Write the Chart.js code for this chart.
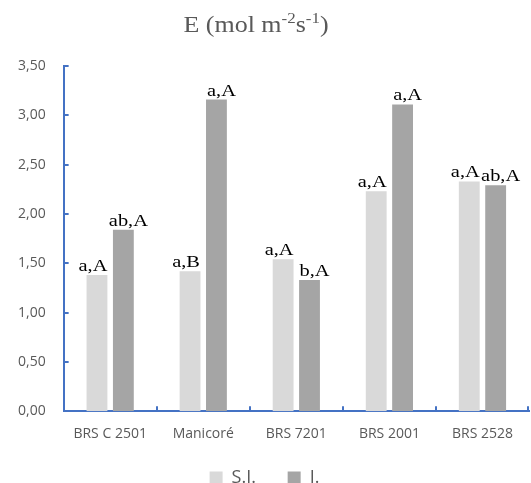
<!DOCTYPE html>
<html>
<head>
<meta charset="utf-8">
<script src="https://cdn.jsdelivr.net/npm/chart.js@4"></script>
<style>
  html, body { margin: 0; padding: 0; background: #fff; }
  #wrap { width: 531px; height: 483px; }
</style>
</head>
<body>
<div id="wrap"><canvas id="chart"></canvas></div>
<script>
// data
const cultivars = ['BRS C 2501', 'Manicoré', 'BRS 7201', 'BRS 2001', 'BRS 2528'];
const seriesNames = ['S.I.', 'I.'];
const valuesSI = [1.38, 1.42, 1.54, 2.23, 2.33];
const valuesI = [1.84, 3.16, 1.33, 3.11, 2.29];
const lettersSI = ['a,A', 'a,B', 'a,A', 'a,A', 'a,A'];
const lettersI = ['ab,A', 'a,A', 'b,A', 'a,A', 'ab,A'];
const yTicks = [0, 0.5, 1, 1.5, 2, 2.5, 3, 3.5];

const AXIS_BLUE = '#4472C4';
const GREY_TEXT = '#595959';
const SERIF = '"Times New Roman", "Liberation Serif", serif';

// title with superscripts, drawn in pieces
const titlePlugin = {
    id: 'titleSup',
    afterDraw(chart) {
        const ctx = chart.ctx;
        const big = 23, small = 15, sx = 1.13;
        const parts = [
            { t: 'E (mol m', s: big, dy: 0 },
            { t: '-2', s: small, dy: -9 },
            { t: 's', s: big, dy: 0 },
            { t: '-1', s: small, dy: -9 },
            { t: ')', s: big, dy: 0 }
        ];
        ctx.save();
        let w = 0;
        parts.forEach(p => { ctx.font = p.s + 'px ' + SERIF; p.w = ctx.measureText(p.t).width; w += p.w; });
        const cx = 256, base = 32;
        ctx.translate(cx, base);
        ctx.scale(sx, 1);
        ctx.fillStyle = GREY_TEXT;
        ctx.textBaseline = 'alphabetic';
        let x = -w / 2;
        parts.forEach(p => {
            ctx.font = p.s + 'px ' + SERIF;
            ctx.fillText(p.t, x, p.dy);
            x += p.w;
        });
        ctx.restore();
    }
};

// letters above the bars; the pair is nudged apart a little so they don't collide
const lettersPlugin = {
    id: 'letters',
    afterDatasetsDraw(chart) {
        const ctx = chart.ctx;
        const sets = [lettersSI, lettersI];
        const nudge = [-4, 5];
        ctx.save();
        ctx.fillStyle = '#000';
        ctx.font = '17px ' + SERIF;
        ctx.textAlign = 'center';
        ctx.textBaseline = 'alphabetic';
        sets.forEach((letters, di) => {
            chart.getDatasetMeta(di).data.forEach((bar, i) => {
                ctx.save();
                ctx.translate(bar.x + nudge[di], bar.y - 4);
                ctx.scale(1.2, 1);
                ctx.fillText(letters[i], 0, 0);
                ctx.restore();
            });
        });
        ctx.restore();
    }
};

// small tick marks pointing into the plot, like the original
const innerTicks = {
    id: 'innerTicks',
    afterDraw(chart) {
        const ctx = chart.ctx;
        const { left, right, bottom } = chart.chartArea;
        const y = chart.scales.y;
        ctx.save();
        ctx.strokeStyle = AXIS_BLUE;
        ctx.lineWidth = 2;
        ctx.beginPath();
        yTicks.forEach(v => {
            if (v === 0) return;
            const py = Math.round(y.getPixelForValue(v));
            ctx.moveTo(left, py);
            ctx.lineTo(left + 5, py);
        });
        const step = (right - left) / cultivars.length;
        for (let k = 1; k <= cultivars.length; k++) {
            const px = Math.round(left + step * k) - (k === cultivars.length ? 1 : 0);
            ctx.moveTo(px, bottom);
            ctx.lineTo(px, bottom - 5);
        }
        ctx.stroke();
        ctx.restore();
    }
};

new Chart(document.getElementById('chart'), {
    type: 'bar',
    data: {
        labels: cultivars,
        datasets: [
            { label: seriesNames[0], data: valuesSI, backgroundColor: '#D9D9D9', borderWidth: 0 },
            { label: seriesNames[1], data: valuesI, backgroundColor: '#A5A5A5', borderWidth: 0 }
        ]
    },
    options: {
        responsive: true,
        maintainAspectRatio: false,
        animation: false,
        datasets: { bar: { categoryPercentage: 0.567, barPercentage: 0.79 } },
        layout: { padding: { top: 66, left: 0, right: 2, bottom: -14 } },
        plugins: {
            title: { display: false },
            tooltip: { enabled: false },
            legend: {
                position: 'bottom',
                labels: {
                    boxWidth: 13,
                    boxHeight: 13,
                    padding: 13,
                    color: GREY_TEXT,
                    font: { family: '"Open Sans"', size: 18 },
                    generateLabels: chart => {
                        const items = Chart.defaults.plugins.legend.labels.generateLabels(chart);
                        items.forEach((it, i) => { if (i < items.length - 1) it.text += '    '; });
                        return items;
                    }
                }
            }
        },
        scales: {
            x: {
                grid: { display: false, drawTicks: false },
                border: { display: true, color: AXIS_BLUE, width: 2 },
                ticks: { color: GREY_TEXT, padding: 14, font: { family: '"Open Sans"', size: 14 } }
            },
            y: {
                min: 0,
                max: 3.5,
                afterBuildTicks: axis => { axis.ticks = yTicks.map(v => ({ value: v })); },
                grid: { display: false, drawTicks: false },
                border: { display: true, color: AXIS_BLUE, width: 2 },
                ticks: {
                    color: GREY_TEXT,
                    padding: 18,
                    font: { family: '"Open Sans"', size: 14 },
                    callback: v => Number(v).toFixed(2).replace('.', ',')
                }
            }
        }
    },
    plugins: [titlePlugin, lettersPlugin, innerTicks]
});
</script>
</body>
</html>
